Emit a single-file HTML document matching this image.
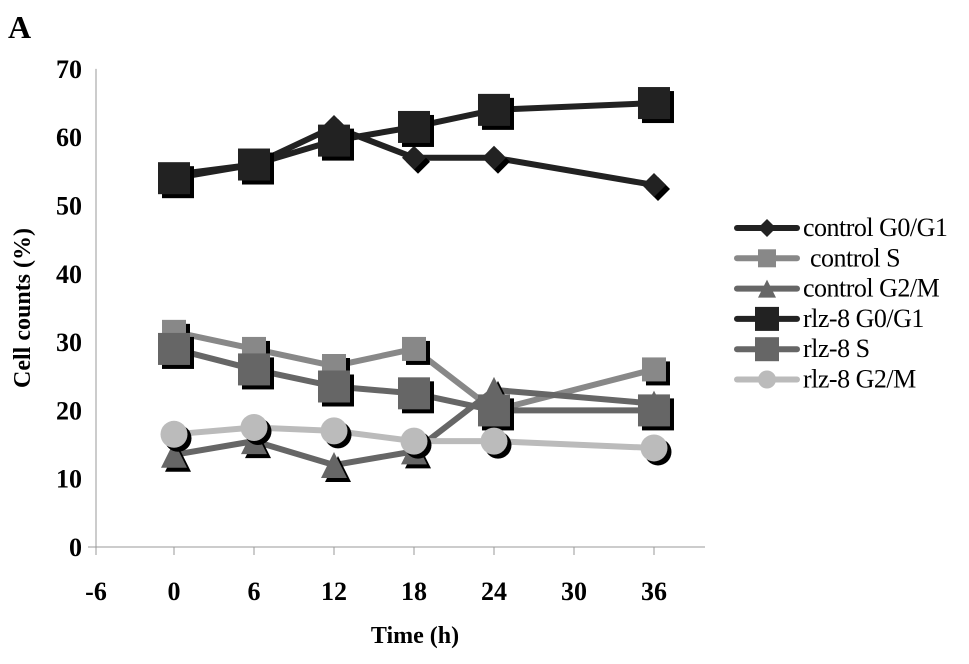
<!DOCTYPE html>
<html><head><meta charset="utf-8"><style>
body{margin:0;background:#fff;}
svg{display:block;font-family:"Liberation Serif",serif;}
</style></head><body>
<svg id="chart" width="969" height="664" viewBox="0 0 969 664">
<text x="8" y="38" font-size="32" font-weight="bold">A</text>
<g id="axes"></g><g id="series"></g><g id="legend"></g>
<text x="415" y="643" font-size="24" font-weight="bold" text-anchor="middle">Time (h)</text>
<text transform="translate(30,308) rotate(-90)" font-size="24" font-weight="bold" text-anchor="middle">Cell counts (%)</text>
</svg>
<script>
const times=[0,6,12,18,24,36];
const xTicks=[-6,0,6,12,18,24,30,36];
const yTicks=[0,10,20,30,40,50,60,70];
const seriesNames=["control G0/G1","control S","control G2/M","rlz-8 G0/G1","rlz-8 S","rlz-8 G2/M"];
const controlG0G1=[54.5,56,61.5,57,57,53];
const controlS=[31.5,29,26.5,29,20,26];
const controlG2M=[13.5,15.5,12,14,23,21];
const rlzG0G1=[54,56,59.5,61.5,64,65];
const rlzS=[29,26,23.5,22.5,20,20];
const rlzG2M=[16.5,17.5,17,15.5,15.5,14.5];
const NS="http://www.w3.org/2000/svg";
const X=h=>174+(h+0)*13.333;
const Y=v=>547-v*6.83;
function mk(tag,attrs,parent){const e=document.createElementNS(NS,tag);for(const k in attrs)e.setAttribute(k,attrs[k]);parent.appendChild(e);return e;}
const axes=document.getElementById('axes');
let l=mk('line',{x1:96,y1:Y(70),x2:96,y2:547,stroke:'#999','stroke-width':1},axes);


l=mk('line',{x1:88,y1:547,x2:705,y2:547,stroke:'#999','stroke-width':1},axes);


yTicks.forEach(v=>{const t=mk('text',{x:82,y:Y(v)+9,'font-size':26,'font-weight':'bold','text-anchor':'end'},axes);t.textContent=v;

});
xTicks.forEach(h=>{const x=h===-6?96:X(h);const tk=mk('line',{x1:x,y1:547,x2:x,y2:555,stroke:'#999'},axes);


const t=mk('text',{x:x,y:600,'font-size':26,'font-weight':'bold','text-anchor':'middle'},axes);t.textContent=h;

});
const specs=[
{d:controlG0G1,c:'#222',m:'diamond',s:24,key:'control-g0g1'},
{d:controlS,c:'#888',m:'square',s:24,key:'control-s'},
{d:controlG2M,c:'#666',m:'triangle',s:26,key:'control-g2m'},
{d:rlzG0G1,c:'#222',m:'square',s:32,key:'rlz8-g0g1'},
{d:rlzS,c:'#666',m:'square',s:32,key:'rlz8-s'},
{d:rlzG2M,c:'#bbb',m:'circle',s:27,key:'rlz8-g2m'}];
function marker(g,m,x,y,s,fill){
 let e;
 if(m==='square')e=mk('rect',{x:x-s/2,y:y-s/2,width:s,height:s,fill:fill},g);
 else if(m==='diamond')e=mk('polygon',{points:`${x},${y-s/2} ${x+s/2},${y} ${x},${y+s/2} ${x-s/2},${y}`,fill:fill},g);
 else if(m==='triangle')e=mk('polygon',{points:`${x},${y-s/2} ${x+s/2},${y+s/2} ${x-s/2},${y+s/2}`,fill:fill},g);
 else e=mk('circle',{cx:x,cy:y,r:s/2,fill:fill},g);
 return e;
}
const sg=document.getElementById('series');
specs.forEach(sp=>{
 const g=mk('g',{},sg);
 
 
 const pts=sp.d.map((v,i)=>X(times[i])+','+Y(v)).join(' ');
 const pl=mk('polyline',{points:pts,fill:'none',stroke:sp.c,'stroke-width':6,'stroke-linejoin':'round'},g);
 
 
 sp.d.forEach((v,i)=>{
  const sh=marker(g,sp.m,X(times[i])+4,Y(v)+4,sp.s,'#000');
  
  
  const mm=marker(g,sp.m,X(times[i]),Y(v),sp.s,sp.c);
  
  
 });
});
const lg=document.getElementById('legend');
specs.forEach((sp,i)=>{
 const y=228+i*30.3;
 const g=mk('g',{},lg);
 
 
 mk('line',{x1:737,y1:y,x2:797,y2:y,stroke:sp.c,'stroke-width':6,'stroke-linecap':'round'},g);
 marker(g,sp.m,767,y,sp.key.startsWith('rlz8-g0')||sp.key==='rlz8-s'?24:18,sp.c);
 const t=mk('text',{x:sp.key==='control-s'?810:803,y:y+8,'font-size':26,'letter-spacing':-0.5},g);
 t.textContent=seriesNames[i];
});
</script>
</body></html>
